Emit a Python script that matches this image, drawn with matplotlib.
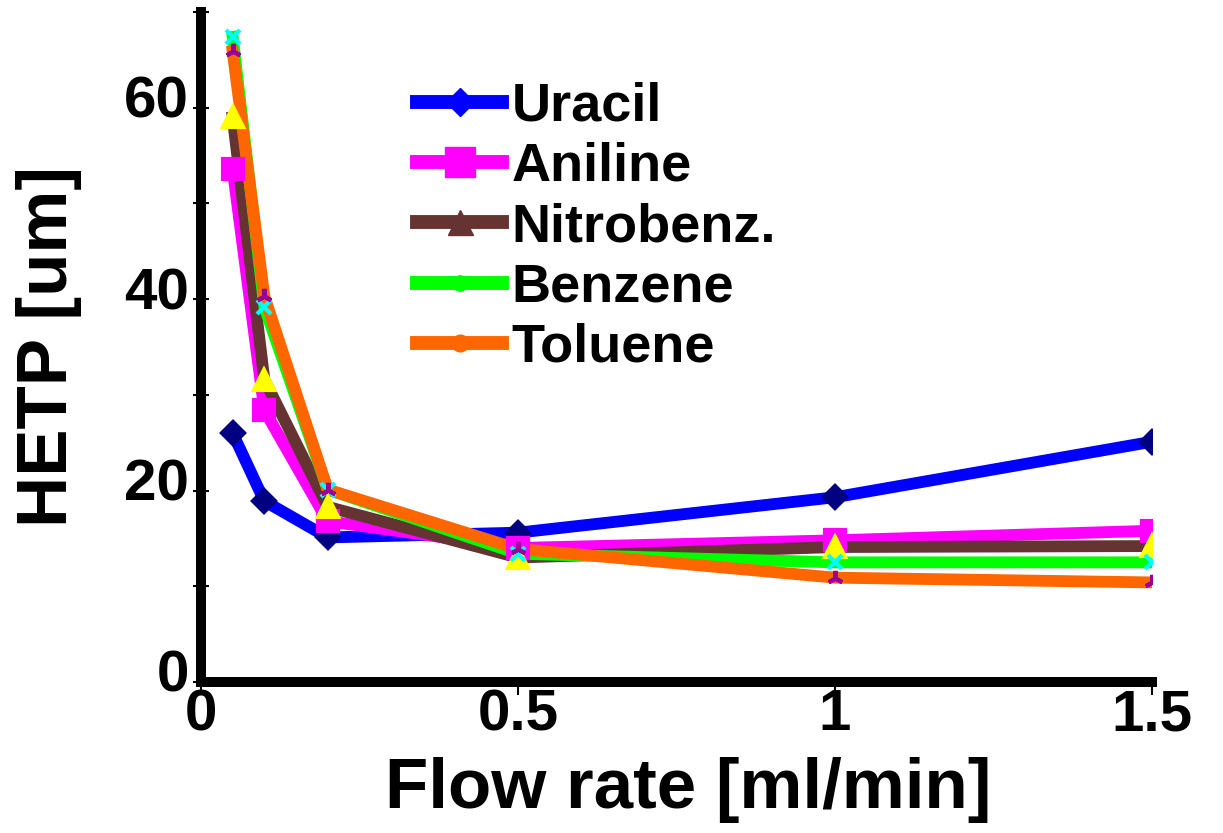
import matplotlib.pyplot as plt
import matplotlib.transforms as mtransforms
from matplotlib.lines import Line2D

flow = [0.05, 0.1, 0.2, 0.5, 1.0, 1.5]
uracil = [26.0, 18.9, 15.1, 15.6, 19.3, 25.1]
aniline = [53.6, 28.4, 16.8, 14.0, 14.8, 15.8]
nitrobenz = [59.0, 31.6, 18.3, 13.0, 14.1, 14.2]
benzene = [67.4, 39.2, 20.1, 13.4, 12.5, 12.5]
toluene = [65.9, 40.3, 20.1, 13.9, 10.9, 10.4]

names = ['Uracil', 'Aniline', 'Nitrobenz.', 'Benzene', 'Toluene']
series = [uracil, aniline, nitrobenz, benzene, toluene]
line_colors = ['#0000FF', '#FF00FF', '#663333', '#00FF00', '#FF6600']
mark_colors = ['#000080', '#FF00FF', '#FFFF00', '#00FFFF', '#990099']
markers = ['D', 's', '^', 'x', (3, 2, 0)]
msizes = [11, 14, 15, 10, 11]
legend_markers = ['D', 's', '^', 'o', 'o']
legend_msizes = [14, 22, 18, 11, 12]

plt.rcParams['font.family'] = 'Liberation Sans'
plt.rcParams['font.weight'] = 'bold'

fig = plt.figure(figsize=(12.23, 8.33), dpi=100)
ax = fig.add_axes([0.1643, 0.1813, 0.9419 - 0.1643, 0.9856 - 0.1813])

for vals, lc in zip(series, line_colors):
    ax.plot(flow, vals, color=lc, lw=8.5, solid_joinstyle='round')
for vals, mc, m, ms in zip(series, mark_colors, markers, msizes):
    ax.plot(flow, vals, ls='none', marker=m, ms=ms, mfc=mc, mec=mc, mew=3)

ax.set_xlim(0, 1.5)
ax.set_ylim(0, 70)
ax.set_xticks([0, 0.5, 1, 1.5])
ax.set_xticklabels(['0', '0.5', '1', '1.5'])
ax.set_yticks(range(0, 71, 10))
ax.set_yticklabels(['0', '', '20', '', '40', '', '60', ''])

for s in ['top', 'right']:
    ax.spines[s].set_visible(False)
for s in ['left', 'bottom']:
    ax.spines[s].set_linewidth(7.2)
    ax.spines[s].set_capstyle('projecting')

ax.tick_params(axis='y', direction='inout', length=11.5, width=1.5, pad=3,
               labelsize=42)
ax.tick_params(axis='x', direction='out', length=9.5, width=1.5, pad=-5,
               labelsize=42)
offset = mtransforms.ScaledTranslation(0, 0.11, fig.dpi_scale_trans)
for lab in ax.get_yticklabels():
    lab.set_transform(lab.get_transform() + offset)

ax.set_xlabel('Flow rate [ml/min]', fontsize=51, fontweight='bold')
ax.set_ylabel('HETP [um]', fontsize=51, fontweight='bold')
ax.xaxis.set_label_coords(0.512, -0.112)
ax.yaxis.set_label_coords(-0.125, 0.5)

handles = [Line2D([], [], color=lc, lw=10, marker=lm, ms=lms, mfc=lc, mec=lc)
           for lc, lm, lms in zip(line_colors, legend_markers, legend_msizes)]
fig.legend(handles, names, loc='upper left', bbox_to_anchor=(0.341, 0.902),
           frameon=False, borderpad=0, borderaxespad=0,
           handlelength=1.57, handletextpad=0.18, labelspacing=0.19,
           prop={'weight': 'bold', 'size': 39})

fig.savefig('out.png', dpi=100)
